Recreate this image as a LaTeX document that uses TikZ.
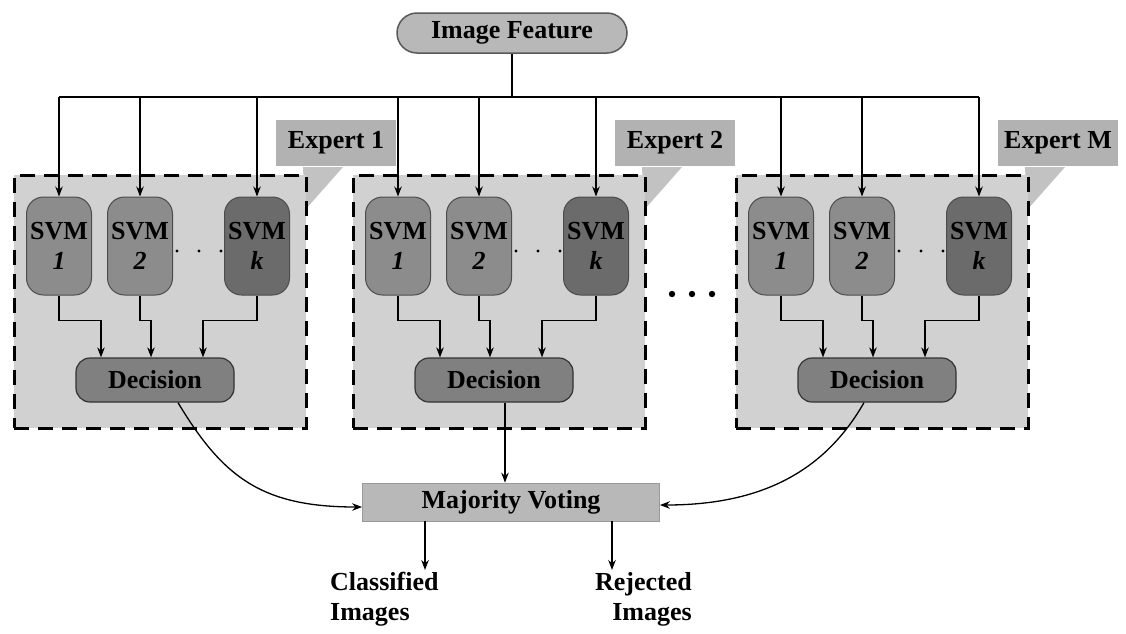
\documentclass[tikz,border=0pt]{standalone}
\usepackage{fontspec}
\setmainfont{Liberation Serif}
\usetikzlibrary{arrows.meta,calc}
\begin{document}
\begin{tikzpicture}[x=1pt,y=-1pt,
  txt/.style={font=\fontsize{26}{30}\selectfont\bfseries},
  arr/.style={-{Stealth[length=10pt,width=7.5pt]},line width=1.3pt},
  ln/.style={line width=1.3pt},
  feat/.style={txt,draw=black!65,line width=1.5pt,fill=black!28,rounded corners=20pt,minimum width=230pt,minimum height=40pt,inner sep=0pt},
  expbox/.style={draw=black,line width=2.5pt,dash pattern=on 15pt off 9pt,fill=black!18,minimum width=292pt,minimum height=253pt,inner sep=0pt,anchor=north west},
  explabel/.style={txt,fill=black!30,minimum width=120pt,minimum height=46pt,inner sep=0pt},
  svmbox/.style={txt,draw=black!70,line width=1pt,fill=black!45,rounded corners=17pt,minimum width=65pt,minimum height=98pt,align=center,inner sep=0pt},
  svmdark/.style={svmbox,fill=black!58},
  decbox/.style={txt,draw=black!80,line width=1.2pt,fill=black!50,rounded corners=14pt,minimum width=158pt,minimum height=44pt,inner sep=0pt},
  mvbox/.style={txt,draw=black!40,line width=0.8pt,fill=black!28,minimum width=297pt,minimum height=38pt,inner sep=0pt},
  outtxt/.style={txt,inner sep=2pt}
]
\useasboundingbox[fill=white] (0,0) rectangle (1126,633);
\coordinate (bus) at (0,97);

\foreach \x/\n/\lab in {13/a/1,352/b/2,735/c/M}{
  \fill[black!24] (\x+290,167) -- (\x+330,167) -- (\x+292,210) -- cycle;
  \node[expbox] (box\n) at (\x,174) {};
  \node[explabel] (lab\n) at (\x+323,143) {Expert \lab};
  \node[svmbox] (s1\n) at (\x+46,246) {SVM\\\textit{1}};
  \node[svmbox] (s2\n) at (\x+127,246) {SVM\\\textit{2}};
  \node[svmdark] (sk\n) at (\x+244,246) {SVM\\\textit{k}};
  \fill (\x+164,251) circle (1.6pt) (\x+186,251) circle (1.6pt) (\x+208,251) circle (1.6pt);
  \node[decbox] (d\n) at (\x+142,380) {Decision};
  \draw[arr] (s1\n.south) -- ++(0,25) -| ([xshift=-54pt]d\n.north);
  \draw[arr] (s2\n.south) -- ++(0,25) -| ([xshift=-4pt]d\n.north);
  \draw[arr] (sk\n.south) -- ++(0,25) -| ([xshift=48pt]d\n.north);
  \draw[arr] (s1\n.north |- bus) -- (s1\n.north);
  \draw[arr] (s2\n.north |- bus) -- (s2\n.north);
  \draw[arr] (sk\n.north |- bus) -- (sk\n.north);
}

\foreach \xx in {672,692,712}{\fill (\xx,294) circle (3.2pt);}

\node[feat] (feat) at (512,33) {Image Feature};
\draw[ln] (feat.south) -- (feat.south |- bus);
\draw[ln] (s1a.north |- bus) -- (skc.north |- bus);

\node[mvbox] (mv) at (511,502) {Majority Voting};
\draw[arr] ([xshift=11pt]db.south) -- ([xshift=11pt]db.south |- mv.north);
\draw[arr] ([xshift=23pt]da.south) .. controls +(45,75) and +(-100,0) .. ([yshift=-5pt]mv.west);
\draw[arr] ([xshift=-13pt]dc.south) .. controls +(-40,70) and +(100,0) .. ([yshift=-3pt]mv.east);

\node[outtxt,anchor=north west,align=left] (cls) at (328,570) {Classified\\Images};
\node[outtxt,anchor=north east,align=right] (rej) at (694,570) {Rejected\\Images};
\draw[arr] ([xshift=-86pt]mv.south) -- ([xshift=-86pt]mv.south |- cls.north);
\draw[arr] ([xshift=101pt]mv.south) -- ([xshift=101pt]mv.south |- rej.north);
\end{tikzpicture}
\end{document}
